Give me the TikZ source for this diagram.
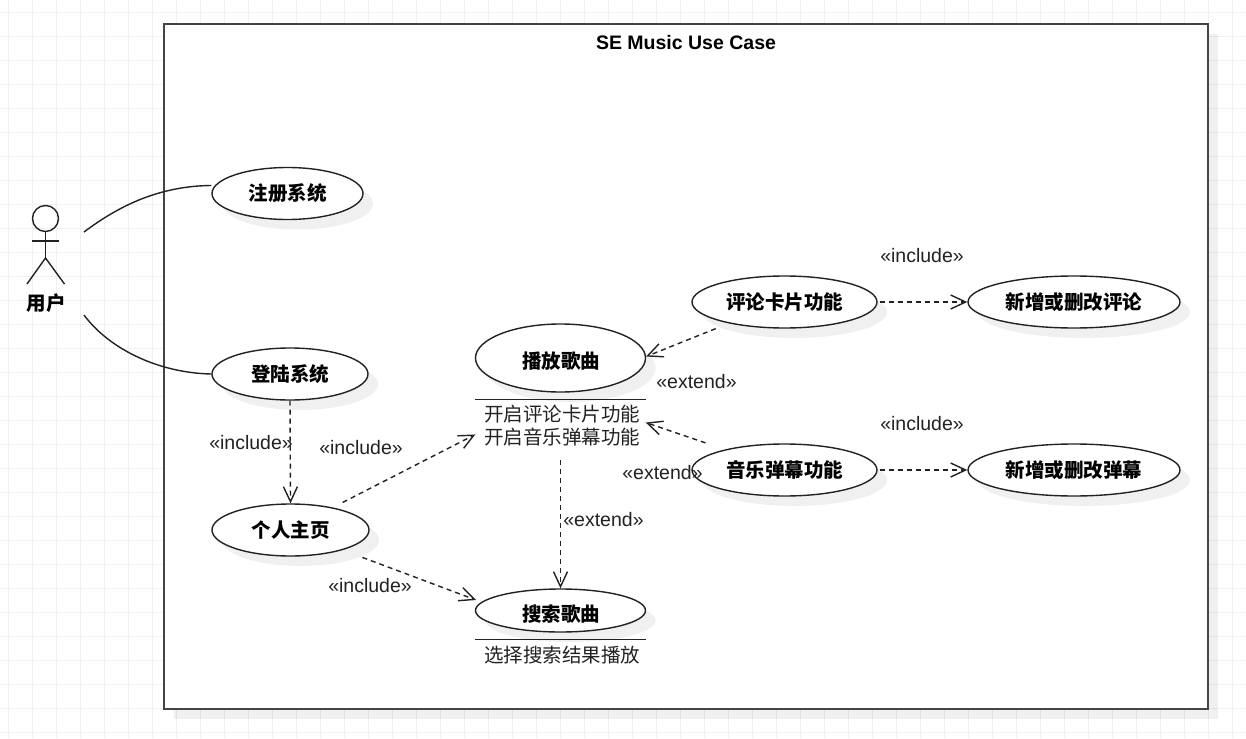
\documentclass[tikz,border=0pt]{standalone}
\usepackage{xcolor}
\usepackage{fontspec}
\setmainfont{Liberation Sans}
\newfontfamily\cjk{Noto Sans CJK SC}
\usetikzlibrary{arrows.meta, shapes.geometric, shadows}
\definecolor{gridcol}{HTML}{F0F0F0}
\definecolor{framecol}{HTML}{444444}
\definecolor{inkcol}{HTML}{222222}
\newcommand{\lowtext}[1]{\raisebox{-10.5pt}[0pt][0pt]{\hspace*{1pt}#1}}
\newcommand{\notetext}[1]{\hspace*{3pt}#1}
\tikzset{
    softshadow/.style={drop shadow={shadow xshift=10pt,shadow yshift=-10pt,opacity=.06,fill=black}},
    usecase/.style={ellipse,draw=inkcol,fill=white,line width=1.4pt,inner sep=0pt,softshadow,
        text=black,font=\cjk\bfseries\fontsize{19.5}{24}\selectfont},
    notebox/.style={minimum width=170pt,inner sep=0pt,align=center,text=inkcol,
        font=\cjk\fontsize{19.5}{23}\selectfont},
    stereo/.style={inner sep=0pt,text=inkcol,font=\fontsize{19.5}{24}\selectfont},
    dep/.style={draw=inkcol,line width=1.4pt,dash pattern=on 5pt off 4pt,
        -{Straight Barb[length=15pt,width=14pt,line width=1.4pt]}},
    assoc/.style={draw=inkcol,line width=1.4pt}
}

\begin{document}
\begin{tikzpicture}[x=1pt,y=-1pt]
\useasboundingbox (0,0) rectangle (1246,738);

\foreach \gx in {8.5,32.5,...,1250} \draw[gridcol,line width=1pt] (\gx,0)--(\gx,738);
\foreach \gy in {12.5,36.5,...,740} \draw[gridcol,line width=1pt] (0,\gy)--(1246,\gy);

\node[draw=framecol,fill=white,line width=2pt,minimum width=1044pt,minimum height=685pt,inner sep=0pt,softshadow] (system) at (686,366.5) {};
\node[inner sep=0pt,text=black,font=\bfseries\fontsize{19.5}{24}\selectfont] (title) at (686,42.5) {SE Music Use Case};

% actor
\node[circle,draw=inkcol,line width=1.4pt,minimum size=26pt,inner sep=0pt] (head) at (45.5,218.5) {};
\coordinate (hip) at (45.5,258);
\coordinate (armL) at (32,241);
\coordinate (armR) at (59,241);
\coordinate (footL) at (27,284);
\coordinate (footR) at (64.5,284);
\node[inner sep=0pt,text=black,font=\cjk\bfseries\fontsize{19.5}{24}\selectfont] (actor) at (46.5,303) {用户};
\draw[assoc] (head.south)--(hip);
\draw[assoc] (armL)--(armR);
\draw[assoc] (footL)--(hip)--(footR);
\coordinate (actorup) at (84,232);
\coordinate (actordown) at (84,315);

\begin{scope}[every node/.append style={usecase}]
    \node[minimum width=151pt,minimum height=52pt] (register) at (287.5,193.5) {注册系统};
    \node[minimum width=156pt,minimum height=52pt] (login) at (290,374) {登陆系统};
    \node[minimum width=157pt,minimum height=52pt] (profile) at (290.5,530) {个人主页};
    \node[minimum width=170pt,minimum height=68pt] (play) at (560.5,358) {\lowtext{播放歌曲}};
    \node[minimum width=170pt,minimum height=43pt] (search) at (560.5,610.5) {\lowtext{搜索歌曲}};
    \node[minimum width=185pt,minimum height=52pt] (comment) at (784.5,302) {评论卡片功能};
    \node[minimum width=185pt,minimum height=52pt] (danmu) at (784.5,470) {音乐弹幕功能};
    \node[minimum width=212pt,minimum height=52pt] (editcomment) at (1074,302) {新增或删改评论};
    \node[minimum width=212pt,minimum height=52pt] (editdanmu) at (1074,470) {新增或删改弹幕};
\end{scope}

\node[notebox,minimum height=52pt] (playnote) at (560.5,425.5) {\notetext{开启评论卡片功能}\\\notetext{开启音乐弹幕功能}};
\node[notebox,minimum height=31pt] (searchnote) at (560.5,655) {\notetext{选择搜索结果播放}};
\draw[assoc] (playnote.north west)--(playnote.north east);
\draw[assoc] (searchnote.north west)--(searchnote.north east);

\node[stereo] (incA) at (251,443) {«include»};
\node[stereo] (incB) at (361,448) {«include»};
\node[stereo] (incC) at (370,586) {«include»};
\node[stereo] (incD) at (922,256) {«include»};
\node[stereo] (incE) at (922,424) {«include»};
\node[stereo] (extA) at (696.5,382) {«extend»};
\node[stereo] (extB) at (662.5,473) {«extend»};
\node[stereo] (extC) at (603.5,520) {«extend»};

\coordinate (searchtip) at (476,600);

\draw[assoc] (actorup) .. controls (120,205) and (160,186) .. ([yshift=8pt]register.west);
\draw[assoc] (actordown) .. controls (110,350) and (160,373) .. (login.west);

\draw[dep] (login.south)--(profile.north);
\draw[dep,shorten <=11pt] (profile.28)--(playnote.186);
\draw[dep,shorten <=21pt] (profile.-21)--(searchtip);
\draw[dep,shorten <=8.5pt] (playnote.south)--(search.north);
\draw[dep,shorten <=14pt] (comment.201)--(play.1);
\draw[dep,shorten <=20.5pt] (danmu.161)--(playnote.2);
\draw[dep,shorten <=2pt] (comment.east)--(editcomment.west);
\draw[dep,shorten <=2pt] (danmu.east)--(editdanmu.west);

\end{tikzpicture}
\end{document}
